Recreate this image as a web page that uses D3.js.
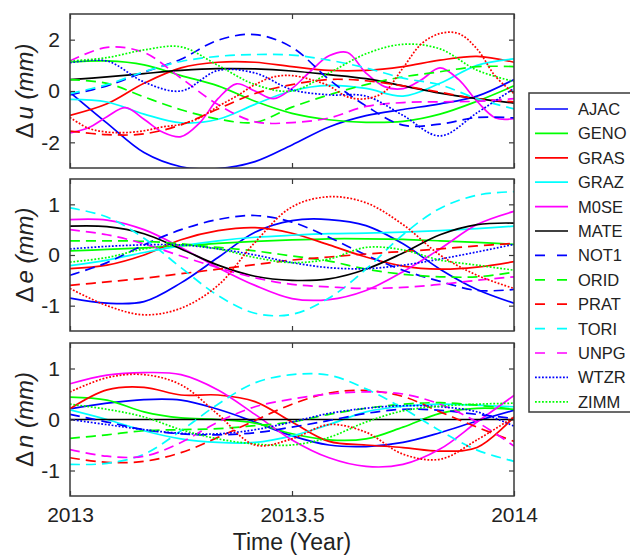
<!DOCTYPE html>
<html>
<head>
<meta charset="utf-8">
<script src="https://cdn.jsdelivr.net/npm/d3@7"></script>
<style>
  body { margin: 0; background: #fff; }
  svg { display: block; font-family: 'Liberation Sans', Arial, sans-serif; }
</style>
</head>
<body>
<svg id="chart" width="630" height="555"></svg>
<script>
// Station position residuals over 2013 (mm)
const xTicks = [2013, 2013.5, 2014];

const stations = ['AJAC', 'GENO', 'GRAS', 'GRAZ', 'M0SE', 'MATE', 'NOT1', 'ORID', 'PRAT', 'TORI', 'UNPG', 'WTZR', 'ZIMM'];
const stationColors = ['#0000ff', '#00ff00', '#ff0000', '#00ffff', '#ff00ff', '#000000',
                       '#0000ff', '#00ff00', '#ff0000', '#00ffff', '#ff00ff', '#0000ff', '#00ff00'];
const stationStyles = ['solid', 'solid', 'solid', 'solid', 'solid', 'solid',
                       'dash', 'dash', 'dash', 'dash', 'dash', 'dot', 'dot'];

// Δu, one row per station (same order as stations), evenly spaced over the year
const uValues = [
    [-0.05, -1.25, -2.4, -2.95, -3.02, -2.75, -2.1, -1.4, -0.96, -0.72, -0.5, -0.2, 0.45],
    [1.13, 1.17, 1.02, 0.6, 0.2, -0.4, -0.87, -1.12, -1.22, -1.18, -0.9, -0.4, 0.2],
    [-0.95, -0.5, 0.3, 0.9, 1.12, 1.12, 0.95, 0.8, 0.8, 0.95, 1.2, 1.35, 1.12],
    [-0.33, -0.43, -0.9, -1.24, -1.1, -0.52, 0.01, 0.22, 0.1, -0.2, 0.3, 1.0, 1.25],
    [-1.63, -1.43, -1.0, -0.65, -1.1, -1.6, -1.78, -1.25, -0.3, 0.28, 0.0, -0.3, 0.1,
     0.77, 1.37, 1.5, 0.7, 0.17, 0.09, 0.44, 0.9, 0.45, -0.4, -1.05, -1.08],
    [0.44, 0.55, 0.68, 0.8, 0.87, 0.86, 0.78, 0.64, 0.48, 0.2, -0.08, -0.3, -0.47],
    [-0.15, 0.2, 0.73, 1.24, 1.98, 2.2, 1.7, 0.45, -0.58, -1.33, -1.29, -1.03, -1.05],
    [0.44, 0.3, -0.23, -0.73, -1.09, -1.22, -0.63, -0.15, 0.25, 0.55, 0.75, 0.95, 0.95],
    [-1.56, -1.7, -1.67, -1.32, -0.7, -0.1, 0.25, 0.45, 0.4, 0.2, -0.05, -0.3, -0.42],
    [-0.1, 0.25, 0.75, 1.15, 1.35, 1.42, 1.4, 1.2, 0.9, 0.5, 0.24, -0.3, -0.7],
    [1.17, 1.7, 1.5, 0.5, -0.53, -1.2, -1.23, -1.05, -0.6, -0.45, -0.42, -0.4, -0.3],
    [1.1, 1.17, 0.35, 0.0, 0.8, 0.7, 0.05, -0.15, -0.2, -0.95, -1.75, -0.85, 0.1],
    [1.17, 1.3, 1.6, 1.72, 1.0, 0.25, 0.0, 0.7, 1.45, 1.82, 1.64, 0.81, 0.37]
];
// red dotted trace with no legend entry
const uExtra = [-1.03, -1.45, -1.6, -1.62, -1.55, -1.4, -1.3, -1.05, -0.6, -0.2, 0.25, 0.55, 0.6,
                0.45, 0.2, -0.23, -0.3, -0.03, 0.9, 1.84, 2.24, 2.24, 1.64, 0.57, -0.1];

// Δe
const eValues = [
    [-0.85, -0.95, -0.92, -0.55, -0.05, 0.45, 0.68, 0.7, 0.58, 0.22, -0.28, -0.68, -0.95],
    [0.08, 0.11, 0.14, 0.18, 0.23, 0.27, 0.3, 0.32, 0.32, 0.31, 0.28, 0.25, 0.21],
    [-0.27, -0.2, 0.0, 0.3, 0.48, 0.54, 0.43, 0.2, -0.04, -0.22, -0.28, -0.24, -0.13],
    [-0.21, -0.1, 0.05, 0.18, 0.28, 0.35, 0.39, 0.42, 0.43, 0.45, 0.48, 0.52, 0.57],
    [0.7, 0.69, 0.5, 0.15, -0.25, -0.6, -0.86, -0.88, -0.7, -0.33, 0.12, 0.6, 0.86],
    [0.57, 0.56, 0.42, 0.12, -0.2, -0.42, -0.5, -0.47, -0.28, 0.04, 0.4, 0.6, 0.63],
    [-0.4, -0.15, 0.2, 0.5, 0.7, 0.78, 0.65, 0.35, 0.0, -0.3, -0.52, -0.7, -0.68],
    [0.28, 0.28, 0.27, 0.22, 0.15, 0.08, -0.02, -0.12, -0.28, -0.38, -0.43, -0.43, -0.34],
    [-0.6, -0.53, -0.46, -0.37, -0.28, -0.19, -0.1, -0.04, 0.02, 0.07, 0.12, 0.18, 0.23],
    [0.93, 0.75, 0.33, -0.25, -0.8, -1.15, -1.17, -0.85, -0.28, 0.4, 0.92, 1.18, 1.25],
    [0.5, 0.4, 0.22, -0.02, -0.25, -0.45, -0.58, -0.63, -0.66, -0.64, -0.58, -0.5, -0.43],
    [0.12, 0.17, 0.2, 0.2, 0.12, 0.0, -0.15, -0.25, -0.27, -0.2, -0.08, 0.06, 0.21],
    [-0.14, -0.05, 0.12, 0.2, 0.12, -0.05, -0.15, -0.08, 0.15, 0.1, -0.1, -0.2, -0.3]
];
const eExtra = [-0.66, -1.0, -1.18, -1.05, -0.6, 0.25, 0.95, 1.15, 1.03, 0.6, 0.0, -0.4, -0.66];

// Δn
const nValues = [
    [0.21, 0.32, 0.39, 0.38, 0.2, -0.05, -0.32, -0.5, -0.53, -0.45, -0.26, -0.03, 0.18],
    [0.44, 0.38, 0.15, 0.03, 0.0, -0.07, -0.28, -0.4, -0.38, -0.15, 0.12, 0.22, 0.2],
    [0.21, 0.58, 0.63, 0.48, 0.48, 0.35, -0.05, -0.43, -0.5, -0.55, -0.62, -0.55, 0.05],
    [0.19, 0.0, -0.22, -0.38, -0.45, -0.45, -0.32, -0.1, 0.15, 0.26, 0.3, 0.28, 0.25],
    [0.7, 0.87, 0.92, 0.88, 0.58, 0.1, -0.4, -0.75, -0.92, -0.88, -0.58, -0.05, 0.47],
    [0, 0, 0, 0, 0, 0, 0, 0, 0, 0, 0, 0, 0],
    [0.1, -0.05, -0.2, -0.28, -0.3, -0.26, -0.15, -0.02, 0.12, 0.2, 0.18, 0.1, 0.02],
    [-0.37, -0.3, -0.22, -0.2, -0.18, -0.12, -0.05, 0.1, 0.22, 0.3, 0.33, 0.28, 0.2],
    [-0.75, -0.84, -0.82, -0.65, -0.35, -0.02, 0.3, 0.52, 0.57, 0.45, 0.15, -0.15, -0.43],
    [-0.88, -0.86, -0.68, -0.22, 0.3, 0.72, 0.88, 0.87, 0.6, 0.22, -0.22, -0.6, -0.82],
    [-0.59, -0.72, -0.72, -0.45, -0.05, 0.25, 0.4, 0.5, 0.54, 0.5, 0.3, -0.05, -0.52],
    [0.0, -0.1, -0.2, -0.27, -0.28, -0.2, -0.05, 0.12, 0.22, 0.27, 0.25, 0.15, -0.13],
    [0.3, 0.2, 0.05, -0.2, -0.38, -0.48, -0.5, -0.35, -0.05, 0.17, 0.26, 0.3, 0.32]
];
const nExtra = [0.54, 0.82, 0.88, 0.68, 0.1, -0.5, -0.38, -0.1, -0.25, -0.68, -0.78, -0.4, 0.05];

// layout
const left = 70, right = 514;
const panels = [
    { letter: 'u', values: uValues, extra: uExtra, top: 14, bottom: 168, domain: [-3, 3], ticks: [-2, 0, 2] },
    { letter: 'e', values: eValues, extra: eExtra, top: 179, bottom: 331, domain: [-1.5, 1.5], ticks: [-1, 0, 1] },
    { letter: 'n', values: nValues, extra: nExtra, top: 343, bottom: 496, domain: [-1.5, 1.5], ticks: [-1, 0, 1] }
];

const dashFor = { solid: null, dash: '10,6', dot: '1.8,1.7' };
const frameColor = '#3a3a3a';

const svg = d3.select('#chart');
const x = d3.scaleLinear().domain([2013, 2014]).range([left, right]);

panels.forEach((p, pi) => {
    const y = d3.scaleLinear().domain(p.domain).range([p.bottom, p.top]);
    const g = svg.append('g').attr('class', 'panel');

    g.append('clipPath').attr('id', 'clip' + pi)
        .append('rect')
        .attr('x', left).attr('y', p.top)
        .attr('width', right - left).attr('height', p.bottom - p.top);

    const line = d3.line()
        .x((d, i, arr) => x(2013 + i / (arr.length - 1)))
        .y(d => y(d))
        .curve(d3.curveCatmullRom.alpha(0.5));

    const series = p.values.map((vals, i) => ({
        vals: vals, color: stationColors[i], style: stationStyles[i]
    }));
    series.push({ vals: p.extra, color: '#ff0000', style: 'dot' });

    g.append('g')
        .attr('clip-path', `url(#clip${pi})`)
        .selectAll('path')
        .data(series)
        .join('path')
        .attr('d', d => line(d.vals))
        .attr('fill', 'none')
        .attr('stroke', d => d.color)
        .attr('stroke-width', 1.7)
        .attr('stroke-dasharray', d => dashFor[d.style]);

    // axes with inward ticks on all sides
    const yLeft = g.append('g')
        .attr('transform', `translate(${left},0)`)
        .call(d3.axisLeft(y).tickValues(p.ticks).tickSize(-5).tickPadding(10).tickFormat(d => String(d)));
    const yRight = g.append('g')
        .attr('transform', `translate(${right},0)`)
        .call(d3.axisRight(y).tickValues(p.ticks).tickSize(-5).tickFormat(''));
    const xTop = g.append('g')
        .attr('transform', `translate(0,${p.top})`)
        .call(d3.axisTop(x).tickValues(xTicks).tickSize(-5).tickFormat(''));
    const xBottom = g.append('g')
        .attr('transform', `translate(0,${p.bottom})`)
        .call(d3.axisBottom(x).tickValues(xTicks).tickSize(-5).tickPadding(11)
            .tickFormat(d => pi === panels.length - 1 ? String(d) : ''));

    [yLeft, yRight, xTop, xBottom].forEach(a => {
        a.select('.domain').remove();
        a.selectAll('line').attr('stroke', frameColor).attr('stroke-width', 1.2);
        a.selectAll('text').attr('font-size', 21).attr('fill', '#222')
            .attr('font-family', "'Liberation Sans', Arial, sans-serif");
    });

    g.append('rect')
        .attr('x', left).attr('y', p.top)
        .attr('width', right - left).attr('height', p.bottom - p.top)
        .attr('fill', 'none').attr('stroke', frameColor).attr('stroke-width', 1.5);

    // y label: Δu (mm)
    const cy = (p.top + p.bottom) / 2;
    const lab = g.append('text')
        .attr('transform', `translate(33,${cy}) rotate(-90)`)
        .attr('text-anchor', 'middle')
        .attr('font-size', 24)
        .attr('fill', '#222');
    lab.append('tspan').text('Δ');
    lab.append('tspan').attr('font-style', 'italic').attr('dx', 3).text(p.letter);
    lab.append('tspan').attr('font-style', 'italic').text(' (mm)');
});

svg.append('text')
    .attr('x', (left + right) / 2).attr('y', 550)
    .attr('text-anchor', 'middle')
    .attr('font-size', 23)
    .attr('fill', '#222')
    .text('Time (Year)');

// legend (box runs past the right edge of the picture)
const legend = svg.append('g').attr('class', 'legend');
legend.append('rect')
    .attr('x', 529).attr('y', 93)
    .attr('width', 130).attr('height', 319)
    .attr('fill', '#fff').attr('stroke', frameColor).attr('stroke-width', 1.5);

const items = legend.selectAll('g.item')
    .data(stations)
    .join('g')
    .attr('class', 'item')
    .attr('transform', (d, i) => `translate(0,${109 + i * 24.4})`);

items.append('line')
    .attr('x1', 535).attr('x2', 568)
    .attr('y1', 0).attr('y2', 0)
    .attr('stroke', (d, i) => stationColors[i])
    .attr('stroke-width', 1.7)
    .attr('stroke-dasharray', (d, i) => stationStyles[i] === 'dash' ? '10,12' : dashFor[stationStyles[i]]);

items.append('text')
    .attr('x', 578).attr('y', 0)
    .attr('dy', '0.36em')
    .attr('font-size', 16.5)
    .attr('fill', '#222')
    .text(d => d);
</script>
</body>
</html>
